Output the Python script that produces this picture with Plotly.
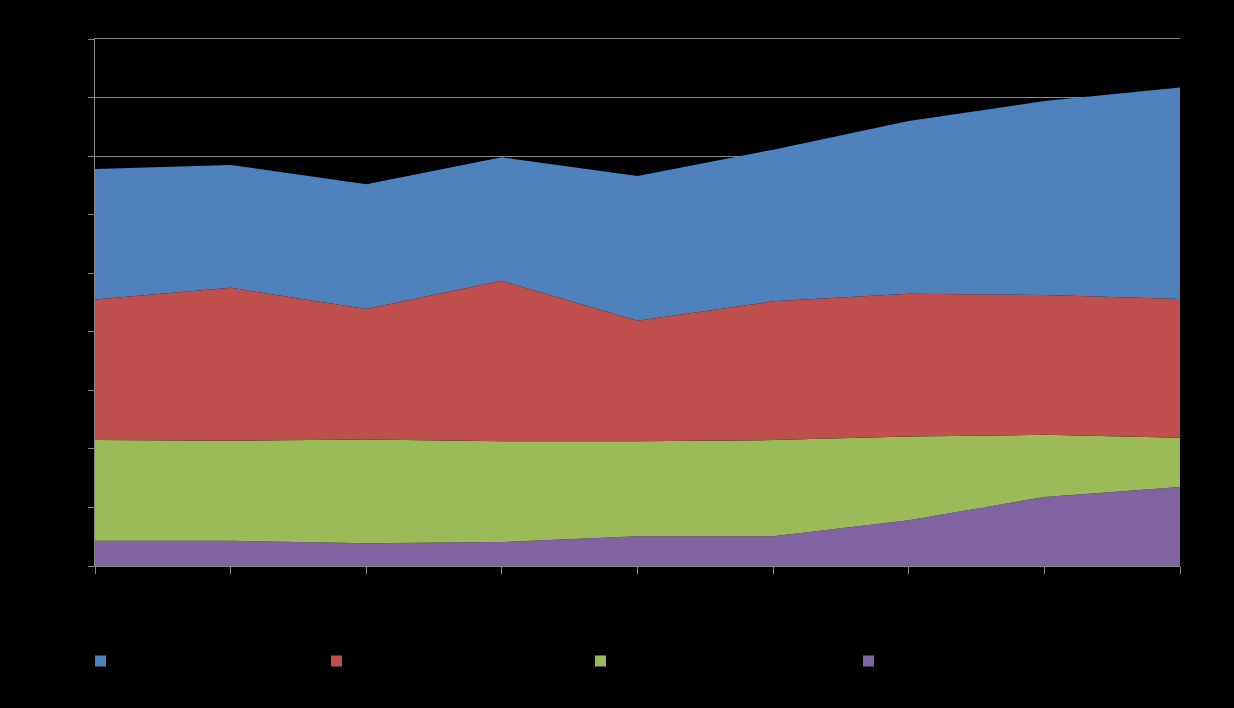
import plotly.graph_objects as go

categories = ["1", "2", "3", "4", "5", "6", "7", "8", "9"]
series_names = ["Series 1", "Series 2", "Series 3", "Series 4"]
blue_vals = [223, 210, 213, 211, 247, 259, 295, 331, 361]
red_vals = [240, 261, 223, 274, 206, 237, 244, 239, 237]
green_vals = [172, 171, 177, 172, 162, 164, 143, 106, 84]
purple_vals = [43, 43, 39, 41, 51, 51, 78, 118, 135]
y_ticks = [0, 100, 200, 300, 400, 500, 600, 700, 800, 900]

colors = {"blue": "#4F81BD", "red": "#C0504D", "green": "#9BBB59", "purple": "#8064A2"}
x_idx = list(range(len(categories)))

fig = go.Figure()
stack = [
    (purple_vals, colors["purple"]),
    (green_vals, colors["green"]),
    (red_vals, colors["red"]),
    (blue_vals, colors["blue"]),
]
for vals, col in stack:
    fig.add_trace(go.Scatter(x=x_idx, y=vals, stackgroup="one", mode="lines",
                             line=dict(width=0, color=col), fillcolor=col,
                             showlegend=False, hoverinfo="skip"))

# legend entries (small squares) at Excel-like positions
legend_specs = [
    ("legend", series_names[0], colors["blue"], 100.5),
    ("legend2", series_names[1], colors["red"], 336.5),
    ("legend3", series_names[2], colors["green"], 600.5),
    ("legend4", series_names[3], colors["purple"], 868.5),
]
L, T, R, B = 95, 39, 54, 142
pw = 1234 - L - R
ph = 708 - T - B
layout_legends = {}
for key, name, col, px in legend_specs:
    fig.add_trace(go.Scatter(x=[None], y=[None], mode="markers", name=name,
                             marker=dict(symbol="square", size=11, color=col),
                             legend=key, showlegend=True))
    layout_legends[key] = dict(
        x=(px - 20 - L) / pw, xanchor="left",
        y=((708 - B) - 661) / ph, yanchor="middle",
        bgcolor="rgba(0,0,0,0)", font=dict(color="#000000", size=13),
        orientation="h",
    )

fig.update_layout(
    width=1234, height=708,
    paper_bgcolor="#000000", plot_bgcolor="#000000",
    margin=dict(l=L, r=R, t=T, b=B),
    hovermode=False,
    **layout_legends,
)
fig.update_xaxes(range=[0, 8], tickmode="array", tickvals=x_idx, ticktext=categories,
                 showticklabels=False, ticks="outside", ticklen=7, tickcolor="#868686",
                 showline=True, linecolor="#868686", linewidth=1, mirror=True,
                 showgrid=False, zeroline=False)
fig.update_yaxes(range=[0, 900], tickmode="array", tickvals=y_ticks,
                 showticklabels=False, ticks="outside", ticklen=6, tickcolor="#868686",
                 showline=True, linecolor="#868686", linewidth=1,
                 showgrid=True, gridcolor="#868686", gridwidth=1, zeroline=False)

fig.write_html("out.html",
               config={"displayModeBar": False},
               post_script="document.body.style.margin='0';document.body.style.background='#000000';")
